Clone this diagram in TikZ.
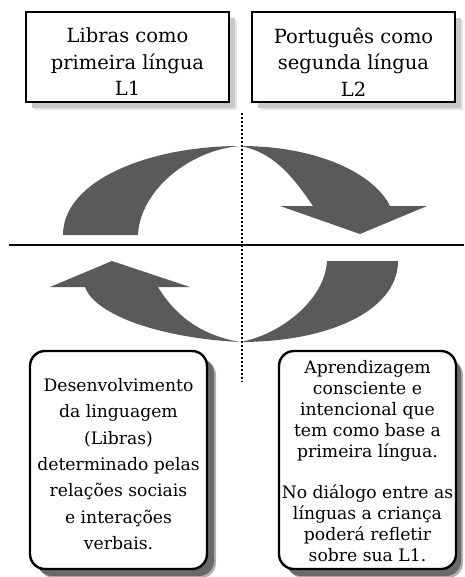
\documentclass[tikz,border=0pt]{standalone}
\usepackage{fontspec}
\setmainfont{DejaVu Serif}
\definecolor{arrowgray}{RGB}{90,90,90}
\definecolor{topshsoft}{RGB}{228,228,228}
\definecolor{topshdark}{RGB}{200,200,200}
\definecolor{botshsoft}{RGB}{175,175,175}
\definecolor{botshdark}{RGB}{105,105,105}
\begin{document}
\begin{tikzpicture}[x=1pt,y=-1pt,
  topbox/.style={draw=black, line width=1.8pt, fill=white,
    minimum width=203pt, minimum height=90pt, inner sep=0pt},
  botbox/.style={draw=black, line width=2.4pt, rounded corners=15pt, fill=white,
    minimum width=177pt, minimum height=218pt, inner sep=0pt},
  toptext/.style={align=center, inner sep=0pt, font=\fontsize{19.5}{26.5}\selectfont},
  lefttext/.style={align=center, inner sep=0pt, font=\fontsize{17.2}{26.3}\selectfont},
  righttext/.style={align=center, inner sep=0pt, font=\fontsize{17.2}{21.2}\selectfont},
  arrowpiece/.style={fill=arrowgray, draw=none},
  axis/.style={draw=black, line width=1.5pt},
  divider/.style={draw=black, line width=2pt, dash pattern=on 2pt off 2pt}
]
\useasboundingbox (0,0) rectangle (464,577);

% arrows
\path[arrowpiece] (63,235) .. controls (63,180) and (150,146) .. (240,146)
  .. controls (190,150) and (140,190) .. (138,235) -- cycle;
\path[arrowpiece] (240,146) .. controls (320,146) and (375,175) .. (390,206)
  -- (427,206) -- (360,234) -- (280,206) -- (313,206)
  .. controls (295,180) and (275,152) .. (240,146) -- cycle;
\path[arrowpiece] (240,342) .. controls (160,338) and (95,315) .. (85,287)
  -- (50,287) -- (112,261) -- (190,287) -- (158,287)
  .. controls (175,315) and (200,335) .. (240,342) -- cycle;
\path[arrowpiece] (327,261) -- (398,261) .. controls (398,310) and (330,342) .. (240,342)
  .. controls (280,335) and (325,300) .. (327,261) -- cycle;

% axes
\coordinate (hl) at (9,245);
\coordinate (hr) at (464,245);
\coordinate (vt) at (242,113);
\coordinate (vb) at (242,382);
\draw[axis] (hl) -- (hr);
\draw[divider] (vt) -- (vb);

% shadows
\path[fill=topshsoft] (34,20) rectangle (237,110);
\path[fill=topshdark] (32,18) rectangle (235,108);
\path[fill=topshsoft] (260,20) rectangle (463,110);
\path[fill=topshdark] (258,18) rectangle (461,108);
\path[fill=botshsoft, rounded corners=15pt] (39,360) rectangle (216,578);
\path[fill=botshdark, rounded corners=15pt] (37,358) rectangle (214,576);
\path[fill=botshsoft, rounded corners=15pt] (288,360) rectangle (463,578);
\path[fill=botshdark, rounded corners=15pt] (286,358) rectangle (461,576);

% boxes
\node[topbox] (b1) at (127.5,57) {};
\node[topbox] (b2) at (353.5,57) {};
\node[botbox] (b3) at (118.5,460) {};
\node[botbox] (b4) at (367.5,460) {};

% texts
\node[toptext] (l1) at (127.5,62) {Libras como\\primeira língua\\L1};
\node[toptext] (l2) at (353.5,62) {Português como\\segunda língua\\L2};
\node[lefttext] (dev) at (118.5,464) {Desenvolvimento\\da linguagem\\(Libras)\\determinado pelas\\relações sociais\\e interações\\verbais.};
\node[righttext] (apr) at (367.5,461) {Aprendizagem\\consciente e\\intencional que\\tem como base a\\primeira língua.\\[19pt]No diálogo entre as\\línguas a criança\\poderá refletir\\sobre sua L1.};
\end{tikzpicture}
\end{document}
